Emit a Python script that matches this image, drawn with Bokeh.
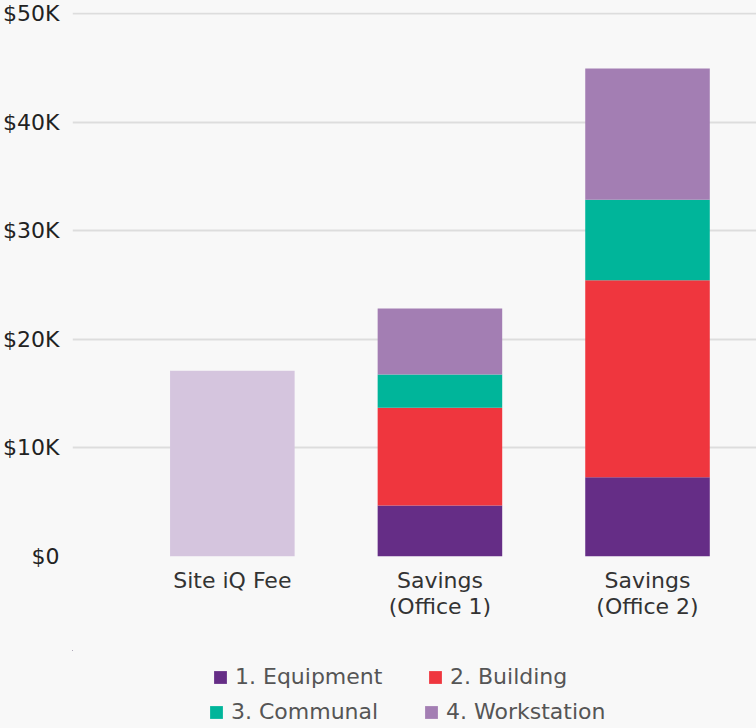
from bokeh.plotting import figure
from bokeh.layouts import column
from bokeh.models import ColumnDataSource, Range1d, FixedTicker, Legend, LegendItem
from bokeh.embed import file_html
from bokeh.resources import INLINE

categories = ["Site iQ Fee", "Savings\n(Office 1)", "Savings\n(Office 2)"]
fee = [17100, 0, 0]
equipment = [0, 4700, 7300]
building = [0, 9000, 18150]
communal = [0, 3050, 7400]
workstation = [0, 6100, 12100]
series_names = ["1. Equipment", "2. Building", "3. Communal", "4. Workstation"]
series_keys = ["equipment", "building", "communal", "workstation"]
series_colors = ["#652d86", "#ef363e", "#00b59a", "#a37eb3"]
fee_color = "#d5c5de"
y_ticks = [0, 10000, 20000, 30000, 40000, 50000]
y_tick_labels = ["$0", "$10K", "$20K", "$30K", "$40K", "$50K"]

FONT = "DejaVu Sans"
FS = "22px"
BG = "#f8f8f8"

xpos = list(range(len(categories)))
source = ColumnDataSource(dict(x=xpos, fee=fee, equipment=equipment, building=building,
                               communal=communal, workstation=workstation))

p = figure(width=756, height=650, output_backend="svg", toolbar_location=None,
           x_range=Range1d(-0.77, 2.525), y_range=Range1d(0, 50100),
           min_border_left=71, min_border_right=0, min_border_top=12, min_border_bottom=94)
p.background_fill_color = BG
p.border_fill_color = BG
p.outline_line_color = None

p.vbar(x="x", top="fee", width=0.6, source=source, color=fee_color, line_width=0)
p.vbar_stack(series_keys, x="x", width=0.6, source=source,
             color=series_colors, line_width=0)

p.xgrid.visible = False
p.ygrid.grid_line_color = "#dddddd"
p.ygrid.grid_line_width = 2
p.ygrid.ticker = FixedTicker(ticks=y_ticks)

yax = p.yaxis[0]
yax.ticker = FixedTicker(ticks=y_ticks)
yax.major_label_overrides = {t: l for t, l in zip(y_ticks, y_tick_labels)}
yax.axis_line_color = None
yax.major_tick_line_color = None
yax.minor_tick_line_color = None
yax.major_label_text_font = FONT
yax.major_label_text_font_size = FS
yax.major_label_text_color = "#222222"
yax.major_label_standoff = 7

xax = p.xaxis[0]
xax.ticker = FixedTicker(ticks=xpos)
xax.major_label_overrides = {x: c for x, c in zip(xpos, categories)}
xax.axis_line_color = None
xax.major_tick_line_color = None
xax.minor_tick_line_color = None
xax.major_label_text_font = FONT
xax.major_label_text_font_size = FS
xax.major_label_text_color = "#333333"
xax.major_label_text_line_height = 1.05
xax.major_label_standoff = 5

# legend strip below the chart (same stacked series, kept fully out of its view)
lp = figure(width=756, height=78, output_backend="svg", toolbar_location=None,
            x_axis_location=None, y_axis_location=None, min_border=0,
            x_range=Range1d(100, 101), y_range=Range1d(-200000, -100000))
lp.background_fill_color = BG
lp.border_fill_color = BG
lp.outline_line_color = None
lp.grid.visible = False
proxies = lp.vbar_stack(series_keys, x="x", width=0.6, source=source,
                        color=series_colors, line_width=0)


def make_legend(idx, loc):
    items = [LegendItem(label=series_names[i], renderers=[proxies[i]]) for i in idx]
    lg = Legend(items=items, orientation="horizontal", location=loc,
                label_text_font=FONT, label_text_font_size=FS, label_text_color="#555555",
                glyph_width=16, glyph_height=16, label_standoff=7, spacing=32,
                label_width=160, label_height=20, background_fill_alpha=0,
                border_line_color=None, margin=0, padding=0)
    lp.add_layout(lg, "center")


make_legend([0, 1], (140, 39))
make_legend([2, 3], (136, 4))

layout = column(p, lp, spacing=0, styles={"background-color": BG})
open("out.html", "w").write(file_html(layout, INLINE))
